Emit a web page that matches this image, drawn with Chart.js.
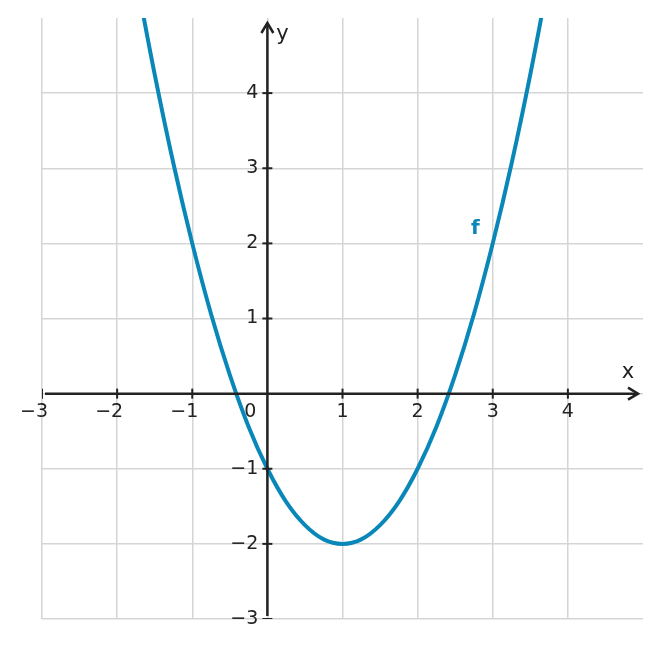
<!DOCTYPE html>
<html>
<head>
<meta charset="utf-8">
<script src="https://cdn.jsdelivr.net/npm/chart.js@4/dist/chart.umd.min.js"></script>
<style>
  body { margin: 0; background: #fff; }
  canvas { display: block; }
</style>
</head>
<body>
<canvas id="plot" width="661" height="648"></canvas>
<script>
const xValues = [-1.75, -1.5, -1.25, -1, -0.75, -0.5, -0.25, 0, 0.25, 0.5, 0.75, 1,
                 1.25, 1.5, 1.75, 2, 2.25, 2.5, 2.75, 3, 3.25, 3.5, 3.75];
const yValues = [5.56, 4.25, 3.06, 2, 1.06, 0.25, -0.44, -1, -1.44, -1.75, -1.94, -2,
                 -1.94, -1.75, -1.44, -1, -0.44, 0.25, 1.06, 2, 3.06, 4.25, 5.56];
const xTicks = [-3, -2, -1, 1, 2, 3, 4];
const yTicks = [-3, -2, -1, 1, 2, 3, 4];
const curveLabel = 'f';

const curveColor = '#0a87b9';
const axisColor = '#222222';
const gridColor = '#d5d5d5';
const font = '"DejaVu Sans", sans-serif';

const axesPlugin = {
    id: 'axesPlugin',
    afterDatasetsDraw(chart) {
        const ctx = chart.ctx;
        const xs = chart.scales.x;
        const ys = chart.scales.y;
        const x0 = xs.getPixelForValue(0);
        const y0 = ys.getPixelForValue(0);
        const { left, right, top, bottom } = chart.chartArea;

        ctx.save();
        ctx.strokeStyle = axisColor;
        ctx.lineWidth = 2.5;
        ctx.lineCap = 'butt';

        // x axis with arrow
        ctx.beginPath();
        ctx.moveTo(left + 3, y0);
        ctx.lineTo(right - 5, y0);
        ctx.stroke();
        ctx.beginPath();
        ctx.moveTo(right - 15, y0 - 6);
        ctx.lineTo(right - 5, y0);
        ctx.lineTo(right - 15, y0 + 6);
        ctx.stroke();

        // y axis with arrow
        ctx.beginPath();
        ctx.moveTo(x0, bottom - 3);
        ctx.lineTo(x0, top + 5);
        ctx.stroke();
        ctx.beginPath();
        ctx.moveTo(x0 - 6, top + 15);
        ctx.lineTo(x0, top + 5);
        ctx.lineTo(x0 + 6, top + 15);
        ctx.stroke();

        // tick marks, clipped to the plot area like the end ticks in the original
        ctx.save();
        ctx.beginPath();
        ctx.rect(left, top, right - left, bottom - top);
        ctx.clip();
        ctx.lineWidth = 2;
        xTicks.forEach(v => {
            const px = xs.getPixelForValue(v);
            ctx.beginPath();
            ctx.moveTo(px, y0 - 5);
            ctx.lineTo(px, y0 + 5);
            ctx.stroke();
        });
        yTicks.forEach(v => {
            const py = ys.getPixelForValue(v);
            ctx.beginPath();
            ctx.moveTo(x0 - 5, py);
            ctx.lineTo(x0 + 5, py);
            ctx.stroke();
        });
        ctx.restore();

        // tick labels
        ctx.fillStyle = axisColor;
        ctx.font = '19px ' + font;
        ctx.textBaseline = 'middle';
        xTicks.forEach(v => {
            const px = xs.getPixelForValue(v);
            const digits = String(Math.abs(v));
            const w = ctx.measureText(digits).width;
            ctx.textAlign = 'right';
            ctx.fillText(v < 0 ? '\u2212' + digits : digits, px + w / 2, y0 + 18);
        });
        ctx.textAlign = 'right';
        yTicks.forEach(v => {
            const py = ys.getPixelForValue(v);
            const txt = v < 0 ? '\u2212' + Math.abs(v) : String(v);
            ctx.fillText(txt, x0 - 9, py);
        });
        ctx.textAlign = 'center';
        ctx.fillText('0', x0 - 17, y0 + 18);

        // axis names
        ctx.font = '21px ' + font;
        ctx.fillText('x', right - 15, y0 - 21);
        ctx.fillText('y', x0 + 15, top + 17);

        // curve label
        ctx.fillStyle = curveColor;
        ctx.font = 'bold 20px ' + font;
        ctx.fillText(curveLabel, xs.getPixelForValue(2.77), ys.getPixelForValue(2.2));
        ctx.restore();
    }
};

new Chart(document.getElementById('plot'), {
    type: 'scatter',
    data: {
        datasets: [{
            label: curveLabel,
            data: xValues.map((x, i) => ({ x: x, y: yValues[i] })),
            showLine: true,
            borderColor: curveColor,
            borderWidth: 4,
            pointRadius: 0,
            tension: 0.4,
            fill: false
        }]
    },
    options: {
        responsive: false,
        animation: false,
        layout: { padding: { left: 42, top: 18, right: 18, bottom: 29 } },
        plugins: {
            legend: { display: false },
            tooltip: { enabled: false }
        },
        scales: {
            x: {
                type: 'linear',
                min: -3,
                max: 5,
                ticks: { display: false, stepSize: 1 },
                border: { display: false },
                grid: {
                    drawTicks: false,
                    lineWidth: 1.5,
                    color: c => c.tick && c.tick.value === 5 ? 'rgba(0,0,0,0)' : gridColor
                }
            },
            y: {
                type: 'linear',
                min: -3,
                max: 5,
                ticks: { display: false, stepSize: 1 },
                border: { display: false },
                grid: {
                    drawTicks: false,
                    lineWidth: 1.5,
                    color: c => c.tick && c.tick.value === 5 ? 'rgba(0,0,0,0)' : gridColor
                }
            }
        }
    },
    plugins: [axesPlugin]
});
</script>
</body>
</html>
